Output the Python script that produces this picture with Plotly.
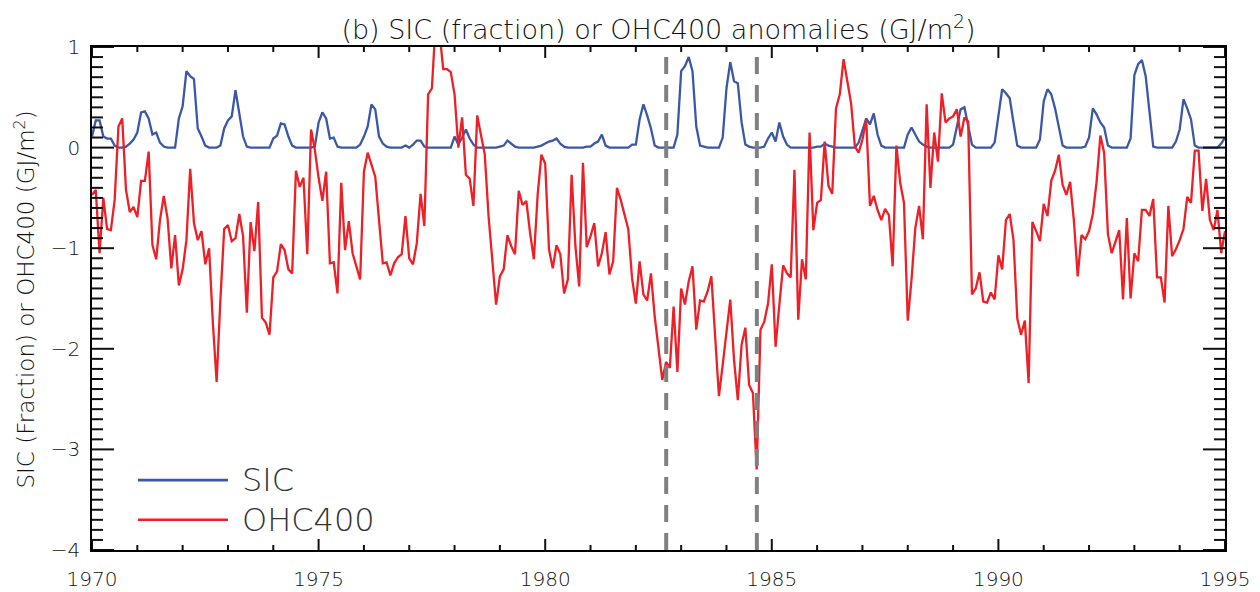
import plotly.graph_objects as go

# ---------------- data (monthly, Jan 1970 .. Jan 1995) ----------------
sic = [
    0.11, 0.27, 0.27, 0.11, 0.09, 0.09, 0.02, 0.00, 0.00, 0.01, 0.04, 0.08,
    0.15, 0.35, 0.36, 0.29, 0.13, 0.15, 0.05, 0.01, 0.00, 0.00, 0.00, 0.29,
    0.41, 0.76, 0.71, 0.68, 0.19, 0.11, 0.02, 0.00, 0.00, 0.00, 0.02, 0.19,
    0.27, 0.31, 0.57, 0.36, 0.11, 0.01, 0.00, 0.00, 0.00, 0.00, 0.00, 0.00,
    0.09, 0.12, 0.24, 0.23, 0.11, 0.02, 0.00, 0.00, 0.00, 0.00, 0.00, 0.01,
    0.25, 0.35, 0.29, 0.09, 0.10, 0.01, 0.00, 0.00, 0.00, 0.00, 0.00, 0.03,
    0.11, 0.21, 0.43, 0.38, 0.11, 0.04, 0.01, 0.00, 0.00, 0.00, 0.00, 0.02,
    0.00, 0.03, 0.07, 0.07, 0.01, 0.00, 0.00, 0.00, 0.00, 0.00, 0.00, 0.00,
    0.11, 0.03, 0.10, 0.18, 0.09, 0.03, 0.00, 0.00, 0.00, 0.00, 0.00, 0.00,
    0.01, 0.02, 0.07, 0.04, 0.01, 0.00, 0.00, 0.00, 0.00, 0.00, 0.01, 0.02,
    0.04, 0.06, 0.07, 0.09, 0.04, 0.01, 0.00, 0.00, 0.00, 0.00, 0.00, 0.01,
    0.01, 0.04, 0.06, 0.13, 0.02, 0.00, 0.00, 0.00, 0.00, 0.00, 0.00, 0.03,
    0.03, 0.28, 0.43, 0.32, 0.19, 0.02, 0.00, 0.00, 0.00, 0.00, 0.00, 0.13,
    0.76, 0.81, 0.90, 0.76, 0.21, 0.02, 0.01, 0.00, 0.00, 0.00, 0.00, 0.10,
    0.59, 0.85, 0.66, 0.64, 0.25, 0.03, 0.01, 0.00, 0.00, 0.00, 0.01, 0.09,
    0.15, 0.06, 0.25, 0.11, 0.03, 0.00, 0.00, 0.00, 0.00, 0.00, 0.00, 0.00,
    0.01, 0.01, 0.04, 0.02, 0.01, 0.00, 0.00, 0.00, 0.00, 0.00, 0.00, 0.05,
    0.16, 0.29, 0.23, 0.34, 0.13, 0.02, 0.00, 0.00, 0.00, 0.00, 0.00, 0.00,
    0.13, 0.20, 0.13, 0.06, 0.03, 0.01, 0.00, 0.00, 0.00, 0.00, 0.00, 0.00,
    0.03, 0.20, 0.38, 0.40, 0.21, 0.03, 0.00, 0.00, 0.00, 0.00, 0.00, 0.05,
    0.33, 0.58, 0.54, 0.49, 0.25, 0.02, 0.00, 0.00, 0.00, 0.00, 0.00, 0.08,
    0.46, 0.58, 0.53, 0.39, 0.21, 0.02, 0.00, 0.00, 0.00, 0.00, 0.00, 0.01,
    0.10, 0.39, 0.33, 0.25, 0.20, 0.02, 0.00, 0.00, 0.00, 0.00, 0.00, 0.09,
    0.72, 0.83, 0.87, 0.71, 0.36, 0.01, 0.00, 0.00, 0.00, 0.00, 0.00, 0.06,
    0.18, 0.48, 0.39, 0.28, 0.02, 0.00, 0.00, 0.00, 0.00, 0.00, 0.00, 0.04,
    0.10,
]

ohc400 = [
    -0.47, -0.42, -1.05, -0.50, -0.81, -0.82, -0.52, 0.21, 0.29, -0.42, -0.64, -0.59,
    -0.69, -0.33, -0.33, -0.04, -0.97, -1.11, -0.72, -0.48, -0.70, -1.20, -0.87, -1.37,
    -1.21, -0.92, -0.21, -0.75, -0.92, -0.83, -1.16, -1.00, -1.74, -2.33, -1.51, -0.81,
    -0.77, -0.93, -0.90, -0.66, -0.88, -1.64, -0.74, -1.03, -0.54, -1.69, -1.74, -1.86,
    -1.29, -1.23, -0.96, -1.02, -1.21, -1.25, -0.23, -0.39, -0.30, -1.06, 0.18, -0.02,
    -0.30, -0.53, -0.24, -1.15, -1.14, -1.45, -0.35, -1.02, -0.73, -1.05, -1.18, -1.31,
    -0.24, -0.05, -0.17, -0.29, -0.72, -1.15, -1.14, -1.27, -1.15, -1.09, -1.06, -0.68,
    -1.10, -1.16, -0.95, -0.46, -0.78, 0.53, 0.59, 1.25, 1.15, 0.78, 0.78, 0.75,
    0.53, 0.00, 0.30, -0.27, -0.31, -0.58, 0.32, 0.13, -0.07, -0.68, -1.11, -1.56,
    -1.28, -1.21, -0.87, -0.98, -1.06, -0.43, -0.57, -0.53, -0.85, -1.11, -0.47, -0.07,
    -0.16, -1.01, -1.20, -0.97, -1.06, -1.45, -1.31, -0.27, -0.98, -1.38, -0.15, -0.99,
    -0.88, -0.75, -1.18, -1.05, -0.84, -1.26, -1.13, -0.40, -0.52, -0.67, -0.81, -1.30,
    -1.55, -1.13, -1.46, -1.52, -1.25, -1.68, -2.01, -2.31, -2.13, -2.19, -1.58, -2.23,
    -1.40, -1.56, -1.33, -1.18, -1.81, -1.52, -1.53, -1.43, -1.28, -1.84, -2.47, -2.16,
    -1.81, -1.51, -2.11, -2.51, -1.96, -1.79, -2.36, -2.44, -3.20, -1.81, -1.73, -1.55,
    -1.16, -1.98, -1.56, -1.17, -1.25, -1.29, -0.22, -1.71, -1.11, -1.31, 0.15, -0.82,
    -0.55, -0.52, 0.06, -0.38, -0.46, 0.39, 0.53, 0.88, 0.66, 0.44, 0.01, -0.05,
    0.08, 0.28, -0.58, -0.48, -0.62, -0.72, -0.61, -0.67, -1.18, 0.02, -0.35, -0.55,
    -1.72, -1.31, -0.80, -0.58, -0.91, 0.43, -0.40, 0.15, -0.14, 0.54, 0.25, 0.29,
    0.31, 0.38, 0.11, 0.30, 0.26, -1.46, -1.40, -1.24, -1.53, -1.54, -1.44, -1.51,
    -1.07, -1.21, -0.72, -0.66, -0.92, -1.70, -1.86, -1.72, -2.34, -0.74, -0.83, -0.93,
    -0.56, -0.68, -0.33, -0.23, -0.07, -0.37, -0.47, -0.34, -0.73, -1.28, -0.87, -0.91,
    -0.83, -0.66, -0.34, 0.12, -0.05, -0.86, -1.05, -0.93, -0.82, -1.51, -0.70, -1.50,
    -1.05, -1.13, -0.62, -0.62, -0.68, -0.51, -1.29, -1.29, -1.54, -0.58, -1.08, -1.01,
    -0.92, -0.81, -0.49, -0.55, -0.03, -0.03, -0.63, -0.31, -0.72, -0.82, -0.62, -1.05,
    -0.83,
]

assert len(sic) == 301, len(sic)
assert len(ohc400) == 301, len(ohc400)

years = [1970 + i / 12 for i in range(len(sic))]
event_years = [1982.67, 1984.67]
x_range = [1970, 1995]
y_range = [-4, 1]
x_major = [1970, 1975, 1980, 1985, 1990, 1995]
x_minor = list(range(1970, 1996))
y_major = [-4, -3, -2, -1, 0, 1]
y_minor = [round(-4 + 0.1 * k, 1) for k in range(51)]
series_names = ["SIC", "OHC400"]

BLUE = "#3b58a8"
RED = "#ee1f26"
TXT = "#111111"
FONT = "DejaVu Sans"

PLOT_W = 1260 - 92 - 35
PLOT_H = 592 - 47 - 42

fig = go.Figure()
fig.add_trace(go.Scatter(x=years, y=sic, mode="lines", name=series_names[0],
                         line=dict(color=BLUE, width=2.3), showlegend=False))
fig.add_trace(go.Scatter(x=years, y=ohc400, mode="lines", name=series_names[1],
                         line=dict(color=RED, width=2.3), showlegend=False))

shapes = []
for ev in event_years:
    shapes.append(dict(type="line", xref="x", yref="paper", x0=ev, x1=ev, y0=0, y1=1,
                       line=dict(color="#808080", width=4, dash="17px,11px")))

# inside tick marks on all four sides (major + minor)
def xtick(v, length, width):
    h = length / PLOT_H
    return [dict(type="line", xref="x", yref="paper", x0=v, x1=v, y0=0, y1=h,
                 line=dict(color="#111111", width=width)),
            dict(type="line", xref="x", yref="paper", x0=v, x1=v, y0=1 - h, y1=1,
                 line=dict(color="#111111", width=width))]

def ytick(v, length, width):
    w = length / PLOT_W
    return [dict(type="line", xref="paper", yref="y", x0=0, x1=w, y0=v, y1=v,
                 line=dict(color="#111111", width=width)),
            dict(type="line", xref="paper", yref="y", x0=1 - w, x1=1, y0=v, y1=v,
                 line=dict(color="#111111", width=width))]

for v in x_minor:
    if v in x_major:
        shapes += xtick(v, 11, 2)
    else:
        shapes += xtick(v, 5, 2)
for v in y_minor:
    if any(abs(v - m) < 1e-9 for m in y_major):
        shapes += ytick(v, 22, 2)
    else:
        shapes += ytick(v, 11, 2)

# legend drawn inside the plot (long sample lines, large text)
leg_y = [0.139, 0.060]
for name, col, yy in zip(series_names, [BLUE, RED], leg_y):
    shapes.append(dict(type="line", xref="paper", yref="paper", x0=0.0405, x1=0.1200,
                       y0=yy, y1=yy, line=dict(color=col, width=2.6)))

annotations = []
for name, yy in zip(series_names, leg_y):
    annotations.append(dict(text=name, xref="paper", yref="paper", x=0.131, y=yy,
                            xanchor="left", yanchor="middle", showarrow=False,
                            font=dict(family=FONT, size=32, color="#333333", weight=300)))
annotations.append(dict(text="SIC (Fraction) or OHC400 (GJ/m<sup>2</sup>)",
                        xref="paper", yref="paper", x=-0.060, y=0.498, textangle=-90,
                        xanchor="center", yanchor="middle", showarrow=False,
                        font=dict(family=FONT, size=23, color=TXT, weight=300)))

tick_font = dict(family=FONT, size=20, color=TXT, weight=300)

fig.update_layout(
    template="none",
    width=1260, height=592,
    margin=dict(l=92, r=35, t=47, b=42, autoexpand=False),
    paper_bgcolor="white", plot_bgcolor="white",
    title=dict(text="(b) SIC (fraction) or OHC400 anomalies (GJ/m<sup>2</sup>)",
               x=0.5, xref="paper", y=0.95, yref="container", xanchor="center", yanchor="middle",
               font=dict(family=FONT, size=27, color=TXT, weight=300)),
    xaxis=dict(range=x_range, tickmode="array", tickvals=x_major, ticks="",
               showline=True, linecolor="black", linewidth=1.6, mirror=True,
               showgrid=False, zeroline=False, automargin=False,
               tickfont=tick_font, ticklabelstandoff=10),
    yaxis=dict(range=y_range, tickmode="array", tickvals=y_major, ticks="",
               showline=True, linecolor="black", linewidth=1.6, mirror=True,
               showgrid=False, zeroline=False, automargin=False,
               tickfont=tick_font, ticklabelstandoff=6),
    shapes=shapes,
    annotations=annotations,
)

fig.write_html("out.html")
